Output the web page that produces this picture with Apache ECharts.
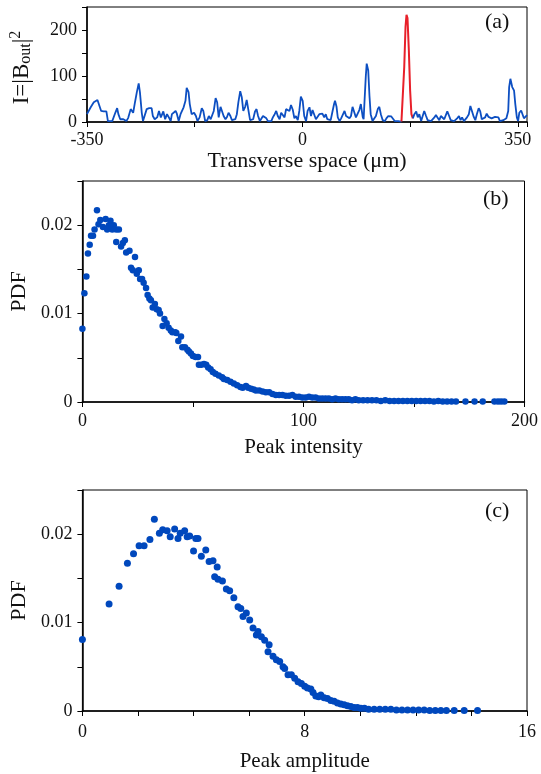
<!DOCTYPE html>
<html>
<head>
<meta charset="utf-8">
<title>Peak statistics</title>
<script src="https://cdn.jsdelivr.net/npm/echarts@6/dist/echarts.min.js"></script>
<style>
  html, body { margin: 0; padding: 0; background: #fff; }
  #chart { width: 541px; height: 774px; }
</style>
</head>
<body>
<div id="chart"></div>
<script>
// (a) output intensity across the transverse space [um, I]
const blueLeft = [
  [-350, 17], [-344, 32], [-339, 43], [-333, 48], [-331, 46], [-327, 24], [-323, 23], [-318.5, 23],
  [-316, 2], [-309, 2], [-304, 20], [-301, 30], [-299, 17], [-296, 6], [-291, 6], [-286, 2],
  [-283, 9], [-279, 28], [-275, 20], [-272, 43], [-269, 65], [-266, 84], [-264, 65], [-261, 20],
  [-259, 2], [-256, 6], [-253, 28], [-249, 30], [-245, 30], [-243, 13], [-240, 6], [-236, 10],
  [-233, 24], [-230, 10], [-228, 13], [-226, 23], [-223, 6], [-220, 17], [-217, 10], [-214, 2],
  [-212, 17], [-209, 13], [-206, 24], [-204, 18], [-201, 2], [-198, 17], [-196, 15], [-193, 32],
  [-190, 46], [-188, 74], [-185, 65], [-183, 39], [-180, 17], [-176, 20], [-173, 13], [-170.5, 2],
  [-167, 10], [-163.5, 30], [-161, 24], [-158, 2], [-154.5, 4], [-152, 13], [-149, 6], [-146.5, 10],
  [-144, 24], [-141, 52], [-138.5, 43], [-136, 10], [-133, 33], [-130.5, 30], [-128, 13], [-125, 6],
  [-122.5, 11], [-120, 20], [-117, 13], [-114.5, 4], [-112, 2], [-109, 6], [-106.5, 17], [-104, 43],
  [-101, 67], [-98.5, 54], [-96, 24], [-93, 33], [-90.5, 48], [-88, 28], [-85, 4], [-82.5, 2],
  [-80, 6], [-77, 23], [-74.5, 28], [-72, 13], [-69, 2], [-66.5, 6], [-64, 13], [-61, 17],
  [-58.5, 8], [-56, 2], [-53, 6], [-50.5, 2], [-48, 10], [-45, 17], [-42.5, 24], [-40, 13],
  [-37, 6], [-34.5, 20], [-32, 17], [-29, 10], [-26.5, 28], [-23.5, 28], [-21, 24], [-18.5, 37],
  [-15.5, 26], [-13, 8], [-10.5, 13], [-7.5, 4], [-5, 24], [-2.5, 55], [0.5, 46], [3, 13],
  [6, 2], [8.5, 24], [11.5, 32], [14, 13], [16.5, 26], [19.5, 23], [22, 6], [24.5, 10],
  [27.5, 17], [30, 13], [32.5, 18], [35.5, 10], [38, 17], [40.5, 6], [43.5, 2], [46, 4],
  [48.5, 20], [51.5, 39], [53, 46], [55.5, 33], [57.5, 10], [60.5, 2], [63, 8], [65.5, 4],
  [68.5, 24], [71, 13], [73.5, 17], [76.5, 8], [79, 13], [81.5, 33], [84.5, 35], [87, 10],
  [89.5, 6], [92.5, 26], [95, 39], [98, 11], [99.5, 6], [101, 46], [103, 98], [104.5, 127],
  [107, 112], [109, 57], [111, 17], [114, 2], [116.5, 4], [119.5, 13], [122.5, 28], [125, 33],
  [127.5, 17], [130.5, 4], [134, 2], [136.5, 8], [139.5, 13], [142, 10], [144.5, 12], [147.5, 10],
  [150, 2], [153, 5], [155.5, 2], [158, 2], [161, 1]
];
const redPeak = [
  [161, 1], [162.8, 2], [165.5, 119], [167.6, 207], [169.2, 233], [170.8, 226], [173, 156],
  [175.1, 68], [177.2, 17], [179.5, 8]
];
const blueRight = [
  [179.5, 8], [182, 17], [185, 23], [187.5, 10], [190, 17], [193, 2], [195.5, 13], [198, 24],
  [201, 13], [203.5, 4], [206, 6], [209, 2], [211.5, 4], [214.5, 10], [217, 15], [219.5, 10],
  [222.5, 4], [225, 13], [227.5, 17], [230.5, 6], [233, 10], [235.5, 23], [238.5, 13], [241, 4],
  [243.5, 2], [246.5, 2], [249, 4], [251.5, 8], [254.5, 13], [257, 4], [259.5, 10], [262.5, 2],
  [265, 6], [267.5, 10], [270.5, 17], [273, 35], [275.5, 24], [278.5, 11], [281, 4], [283.5, 17],
  [286.5, 30], [289, 23], [291.5, 6], [294.5, 2], [297, 10], [299.5, 18], [302.5, 11], [305, 15],
  [307.5, 8], [310.5, 6], [313, 11], [315.5, 15], [318.5, 10], [321, 2], [323.5, 2], [326.5, 4],
  [329, 8], [331.5, 8], [334.5, 24], [336, 76], [338, 94], [341, 76], [344, 68], [346, 39],
  [348.5, 10], [350.5, 2], [352.5, 20], [355.5, 25], [360, 8], [365, 15]
];

// (b) PDF of peak intensity [I, pdf]
const intensityPdf = [
  [0, 0.0083], [0.9, 0.0123], [1.8, 0.0142], [2.5, 0.0168], [3.3, 0.0178], [3.9, 0.0188], [4.8, 0.0188],
  [5.5, 0.0195], [6.6, 0.0217], [7.3, 0.0201], [8.1, 0.0206], [9.3, 0.0198], [10.5, 0.0207], [11.2, 0.0195],
  [12, 0.0200], [12.7, 0.0205], [13.5, 0.0195], [14.2, 0.0200], [15.3, 0.0195], [15.3, 0.0181], [16.5, 0.0195],
  [17.5, 0.0176], [18.3, 0.0180], [19.2, 0.0183], [19.8, 0.0169], [21.3, 0.0171], [22, 0.0152], [22.8, 0.0149],
  [23.8, 0.0164], [24.6, 0.0145], [25.5, 0.0149], [26.1, 0.0139], [27, 0.0139], [27.7, 0.0135], [28.8, 0.0129],
  [29.5, 0.0121], [30.3, 0.0117], [31, 0.0115], [31.8, 0.0107], [32.8, 0.0111], [33.6, 0.0105], [34.5, 0.0104],
  [35.1, 0.0100], [36.3, 0.0086], [37.1, 0.0094], [38.1, 0.0089], [39, 0.0084], [40, 0.0081], [40.7, 0.0079],
  [42, 0.0079], [42.5, 0.0078], [43.4, 0.0069], [44.6, 0.0074], [45.2, 0.0062], [46.4, 0.0062], [47.5, 0.0059],
  [48.2, 0.0057], [49.1, 0.0055], [50, 0.0052], [51.2, 0.0051], [52.3, 0.0051], [52.7, 0.0042], [53.8, 0.0042],
  [55, 0.0043], [56, 0.0042], [56.9, 0.0039], [58, 0.0037], [59, 0.0034], [60.2, 0.0032], [61.7, 0.0030],
  [63.2, 0.0028], [64, 0.0026], [65.5, 0.0025], [67, 0.0023], [68.5, 0.0021], [70, 0.0019], [71.5, 0.0017],
  [72.5, 0.0016], [74, 0.0018], [75, 0.0016], [76.3, 0.0015], [77.5, 0.0014], [78.5, 0.0013], [80, 0.0013],
  [81.5, 0.0012], [83, 0.0011], [84.5, 0.0011], [86, 0.0009], [87.5, 0.0008], [89, 0.0008], [90.5, 0.0008],
  [92, 0.0007], [93.5, 0.0007], [95, 0.0008], [96.5, 0.0006], [98, 0.0006], [99.5, 0.0005], [101, 0.0005],
  [102.5, 0.0006], [104, 0.0005], [105.5, 0.0005], [107, 0.0004], [108.5, 0.0004], [110, 0.0004], [111.5, 0.0004],
  [113, 0.0003], [114.5, 0.0004], [116, 0.0003], [117.5, 0.0003], [119, 0.0003], [120.5, 0.0003], [122, 0.0002],
  [123.5, 0.0003], [125, 0.0002], [127, 0.0002], [129, 0.0002], [131, 0.0002], [133, 0.0002], [135, 0.0001],
  [137, 0.0002], [139, 0.0001], [141, 0.0001], [143, 0.0001], [145, 0.0001], [147, 0.0001], [149, 0.0001],
  [151, 0.0001], [153, 0.0001], [155, 0.0001], [157, 0.0001], [159, 0.00005], [161, 0.0001], [163, 0.00005],
  [165, 0.00005], [167, 0.00005], [169, 0.00005], [173.3, 0.00005], [177.4, 0.00005], [181.1, 0.00005],
  [186.4, 0.00005], [188, 0.00005], [189.4, 0.00005], [190.9, 0.00005]
];

// (c) PDF of peak amplitude [|B|, pdf]
const amplitudePdf = [
  [0, 0.0081], [0.96, 0.0121], [1.32, 0.0141], [1.62, 0.0167], [1.84, 0.0178], [2.04, 0.0187], [2.22, 0.0187],
  [2.43, 0.0194], [2.59, 0.0217], [2.77, 0.0201], [2.89, 0.0205], [3.05, 0.0204], [3.16, 0.0197], [3.32, 0.0206],
  [3.44, 0.0195], [3.52, 0.0201], [3.68, 0.0204], [3.77, 0.0197], [3.86, 0.0198], [4.0, 0.0181], [4.08, 0.0195],
  [4.16, 0.0195], [4.28, 0.0175], [4.44, 0.0182], [4.56, 0.0169], [4.7, 0.0170], [4.76, 0.0152], [4.85, 0.0163],
  [4.88, 0.0149], [5.04, 0.0147], [5.18, 0.0138], [5.3, 0.0136], [5.45, 0.0128], [5.6, 0.0118], [5.7, 0.0116],
  [5.78, 0.0107], [5.9, 0.0111], [6.02, 0.0103], [6.14, 0.0094], [6.26, 0.0086], [6.32, 0.0090], [6.44, 0.0084],
  [6.56, 0.0080], [6.68, 0.0067], [6.72, 0.0075], [6.86, 0.0062], [6.98, 0.0058], [7.1, 0.0056], [7.22, 0.0050],
  [7.28, 0.0048], [7.4, 0.0041], [7.52, 0.0041], [7.64, 0.0037], [7.76, 0.0033], [7.88, 0.0031], [8.0, 0.0028],
  [8.1, 0.0026], [8.22, 0.0025], [8.3, 0.0021], [8.4, 0.0017], [8.5, 0.0016], [8.58, 0.0018], [8.7, 0.0015],
  [8.82, 0.0014], [8.94, 0.0012], [9.06, 0.0011], [9.18, 0.0009], [9.3, 0.0008], [9.42, 0.0007], [9.54, 0.0006],
  [9.66, 0.0005], [9.78, 0.0004], [9.9, 0.0004], [10.02, 0.0003], [10.15, 0.0003], [10.3, 0.0002], [10.5, 0.0002],
  [10.7, 0.0002], [10.9, 0.0002], [11.1, 0.0002], [11.3, 0.0001], [11.5, 0.0001], [11.7, 0.0001], [11.9, 0.0001],
  [12.1, 0.0001], [12.3, 0.0001], [12.5, 0.00005], [12.7, 0.00005], [12.9, 0.00005], [13.1, 0.00005],
  [13.38, 0.00005], [13.74, 0.00005], [14.22, 0.00005]
];

// tick labels that are printed (other ticks stay unlabeled)
const spaceLabels = [-350, 0, 350];
const intensityLabels = [0, 100, 200];
const peakIntensityLabels = [0, 100, 200];
const pdfLabels = [0, 0.01, 0.02];
const amplitudeLabels = [0, 8, 16];

const SERIF = '"Liberation Serif", "Times New Roman", serif';
const BLUE = '#0d4fc2';
const DOT = '#0048bd';
const RED = '#e8202a';

function pick(labels) {
  return function (v) {
    const hit = labels.find(l => Math.abs(l - v) < 1e-9);
    return hit === undefined ? '' : String(hit);
  };
}

function axisBase(gridIndex, labels, margin) {
  return {
    type: 'value',
    gridIndex: gridIndex,
    axisLine: { show: true, onZero: false, lineStyle: { color: '#000', width: 1.5 } },
    axisTick: { show: true, inside: false, length: 5, lineStyle: { color: '#000', width: 1 } },
    splitLine: { show: false },
    axisLabel: { color: '#111', fontFamily: SERIF, fontSize: 18, margin: margin, formatter: pick(labels) },
    nameTextStyle: { color: '#111', fontFamily: SERIF, fontSize: 21 }
  };
}

let myChart = echarts.init(document.getElementById('chart'));

const option = {
  animation: false,
  grid: [
    { left: 81, top: 7, width: 446, height: 115, show: true, borderColor: '#000', borderWidth: 1 },
    { left: 82, top: 181, width: 445, height: 221, show: true, borderColor: '#000', borderWidth: 1 },
    { left: 82, top: 490, width: 445, height: 221, show: true, borderColor: '#000', borderWidth: 1 }
  ],
  xAxis: [
    Object.assign(axisBase(0, spaceLabels, 9), {
      min: -350, max: 365, interval: 175,
      name: 'Transverse space (μm)', nameLocation: 'middle', nameGap: 25,
      nameTextStyle: { color: '#111', fontFamily: SERIF, fontSize: 22 }
    }),
    Object.assign(axisBase(1, peakIntensityLabels, 10), {
      min: 0, max: 200, interval: 50,
      name: 'Peak intensity', nameLocation: 'middle', nameGap: 35
    }),
    Object.assign(axisBase(2, amplitudeLabels, 12), {
      min: 0, max: 16, interval: 2,
      name: 'Peak amplitude', nameLocation: 'middle', nameGap: 40
    })
  ],
  yAxis: [
    Object.assign(axisBase(0, intensityLabels, 10), {
      min: 0, max: 250, interval: 50,
      name: 'I=|B{sub|out}|{sup|2}', nameLocation: 'middle', nameGap: 52,
      nameTextStyle: {
        color: '#111', fontFamily: SERIF, fontSize: 23, padding: [0, 6, 0, 0],
        rich: {
          sub: { fontFamily: SERIF, fontSize: 16, color: '#111', padding: [9, 0, 0, 0] },
          sup: { fontFamily: SERIF, fontSize: 16, color: '#111', padding: [0, 0, 11, 0] }
        }
      }
    }),
    Object.assign(axisBase(1, pdfLabels, 10), {
      min: 0, max: 0.025, interval: 0.005,
      name: 'PDF', nameLocation: 'middle', nameGap: 46,
      nameTextStyle: { color: '#111', fontFamily: SERIF, fontSize: 22 }
    }),
    Object.assign(axisBase(2, pdfLabels, 10), {
      min: 0, max: 0.025, interval: 0.005,
      name: 'PDF', nameLocation: 'middle', nameGap: 46,
      nameTextStyle: { color: '#111', fontFamily: SERIF, fontSize: 22 }
    })
  ],
  graphic: [
    { type: 'text', left: 485, top: 11, style: { text: '(a)', font: '22px ' + SERIF, fill: '#111' } },
    { type: 'text', left: 483, top: 188, style: { text: '(b)', font: '22px ' + SERIF, fill: '#111' } },
    { type: 'text', left: 485, top: 500, style: { text: '(c)', font: '22px ' + SERIF, fill: '#111' } }
  ],
  series: [
    {
      name: 'left', type: 'line', xAxisIndex: 0, yAxisIndex: 0, data: blueLeft,
      showSymbol: false, lineStyle: { color: BLUE, width: 1.8 }
    },
    {
      name: 'peak', type: 'line', xAxisIndex: 0, yAxisIndex: 0, data: redPeak,
      showSymbol: false, lineStyle: { color: RED, width: 2 }
    },
    {
      name: 'right', type: 'line', xAxisIndex: 0, yAxisIndex: 0, data: blueRight,
      showSymbol: false, lineStyle: { color: BLUE, width: 1.8 }
    },
    {
      name: 'intensity', type: 'scatter', xAxisIndex: 1, yAxisIndex: 1, data: intensityPdf,
      symbolSize: 6.5, itemStyle: { color: DOT, opacity: 1 }
    },
    {
      name: 'amplitude', type: 'scatter', xAxisIndex: 2, yAxisIndex: 2, data: amplitudePdf,
      symbolSize: 7, itemStyle: { color: DOT, opacity: 1 }
    }
  ]
};

myChart.setOption(option, true);

window.addEventListener('resize', () => {
  myChart.resize();
});
</script>
</body>
</html>
